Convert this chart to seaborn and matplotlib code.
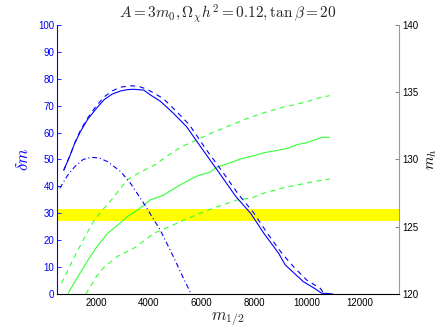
import matplotlib
matplotlib.use("Agg")
import matplotlib.pyplot as plt
import seaborn as sns

sns.set_style("white")
plt.rcParams["font.family"] = ["Liberation Sans", "DejaVu Sans"]
plt.rcParams["mathtext.fontset"] = "cm"

# delta m curves (left axis)
m_solid = [760, 1000, 1175, 1400, 1675, 2000, 2300, 2600, 2925, 3200, 3425, 3800, 4050, 4425,
           4925, 5425, 6050, 6675, 7300, 7860, 8360, 8925, 9175, 9860, 10300, 10550, 10990]
dm_solid = [46, 51.5, 56, 60.5, 65, 69, 72.3, 74.3, 75.5, 76, 76.1, 75.8, 74, 71.7,
            67.2, 62.2, 53.5, 44.9, 36.2, 30, 22.6, 15.1, 10.8, 4.6, 2, 0.3, 0]

m_dashed = [760, 1000, 1175, 1400, 1675, 2000, 2300, 2600, 2925, 3300, 3600, 3900, 4200, 4550,
            5050, 5550, 6150, 6800, 7400, 7990, 8500, 9050, 9500, 9990, 10350, 10490, 10600, 10850]
dm_dashed = [46, 51.5, 56, 61, 65.5, 70, 73.3, 75.5, 76.9, 77.4, 77.2, 76.2, 74.6, 72.6,
             67.8, 62.7, 54, 45.3, 37, 30, 22.5, 15.1, 10, 5.2, 3.0, 2.3, 0.8, 0]

m_dashdot = [610, 900, 1175, 1500, 1800, 2100, 2425, 2925, 3300, 3800, 4425, 4925, 5250, 5600]
dm_dashdot = [39.3, 44, 47.3, 50, 50.8, 50.6, 49.2, 45.5, 41.1, 33.7, 23.8, 13.9, 7, 0]

# Higgs mass curves (right axis)
m_h_solid = [925, 1300, 1675, 2050, 2425, 2800, 3175, 3612, 4050, 4550, 5175, 5550, 5860, 6300,
             6610, 7000, 7490, 7925, 8360, 8925, 9300, 9612, 9990, 10362, 10600, 10862]
mh_solid = [120.05, 121.3, 122.5, 123.6, 124.5, 125.1, 125.75, 126.3, 127.0, 127.35, 128.1, 128.5,
            128.8, 129.05, 129.45, 129.7, 130.05, 130.25, 130.5, 130.7, 130.85, 131.1, 131.25,
            131.5, 131.65, 131.65]

m_h_upper = [675, 925, 1175, 1550, 1925, 2300, 2612, 3175, 3612, 4175, 4800, 5237, 5862, 6487,
             6800, 7100, 7737, 8400, 9112, 9600, 9987, 10400, 10862]
mh_upper = [120.8, 121.8, 122.8, 124.2, 125.5, 126.4, 127.1, 128.5, 129.0, 129.55, 130.4, 130.95,
            131.5, 132.07, 132.3, 132.55, 133.06, 133.5, 133.9, 134.1, 134.3, 134.55, 134.75]

m_h_lower = [1600, 2000, 2300, 2800, 3425, 4175, 5050, 5925, 6612, 7362, 7925, 8362, 9112, 9612,
             10362, 10862]
mh_lower = [120.0, 121.3, 122.0, 122.8, 123.4, 124.5, 125.25, 126.0, 126.5, 127.0, 127.15, 127.5,
            127.9, 128.1, 128.4, 128.55]

mh_band = (125.45, 126.3)

fig = plt.figure(figsize=(4.41, 3.32), dpi=100)
ax = fig.add_axes([0.129, 0.1145, 0.776, 0.8102])
ax2 = ax.twinx()

blue = "#0000ff"
green = "#33ff33"
dashed = (0, (4.5, 4))
dashdot = (0, (4.5, 2.5, 1, 2.5))

ax2.axhspan(mh_band[0], mh_band[1], color="#ffff00", lw=0, zorder=0)
sns.lineplot(x=m_h_solid, y=mh_solid, ax=ax2, color=green, lw=0.8, sort=False)
sns.lineplot(x=m_h_upper, y=mh_upper, ax=ax2, color=green, lw=0.8, linestyle=dashed, sort=False)
sns.lineplot(x=m_h_lower, y=mh_lower, ax=ax2, color=green, lw=0.8, linestyle=dashed, sort=False)

sns.lineplot(x=m_solid, y=dm_solid, ax=ax, color=blue, lw=0.8, sort=False)
sns.lineplot(x=m_dashed, y=dm_dashed, ax=ax, color=blue, lw=0.8, linestyle=dashed, sort=False)
sns.lineplot(x=m_dashdot, y=dm_dashdot, ax=ax, color=blue, lw=0.8, linestyle=dashdot, sort=False)

ax.set_zorder(ax2.get_zorder() + 1)
ax.patch.set_visible(False)

ax.set_xlim(500, 13500)
ax.set_ylim(0, 100)
ax2.set_ylim(120, 140)
ax.set_xticks(range(2000, 13000, 2000))
ax.set_yticks(range(0, 101, 10))
ax2.set_yticks(range(120, 141, 5))

ax.tick_params(axis="y", direction="in", colors=blue, labelsize=7, length=3, width=0.6, pad=2)
ax.tick_params(axis="x", direction="in", colors="black", labelsize=7, length=3, width=0.6, pad=3)
ax2.tick_params(axis="y", direction="in", colors="0.45", labelcolor="black", labelsize=7,
                length=3, width=0.6, pad=2)

for a in (ax, ax2):
    a.spines["top"].set_visible(False)
    for s in a.spines.values():
        s.set_linewidth(0.8)
ax.spines["left"].set_color(blue)
ax.spines["bottom"].set_color("black")
ax.spines["right"].set_visible(False)
ax2.spines["left"].set_visible(False)
ax2.spines["bottom"].set_visible(False)
ax2.spines["right"].set_color("0.6")

ax.set_ylabel(r"$\delta m$", color=blue, fontsize=12, labelpad=5)
ax2.set_ylabel(r"$m_h$", color="black", fontsize=11, labelpad=5)
ax.set_xlabel(r"$m_{1/2}$", fontsize=12, labelpad=2)
ax.set_title(r"$A = 3m_0, \Omega_\chi h^2 = 0.12, \tan\beta = 20$", fontsize=11, pad=5)

fig.savefig("out.png", dpi=100)
plt.close()
